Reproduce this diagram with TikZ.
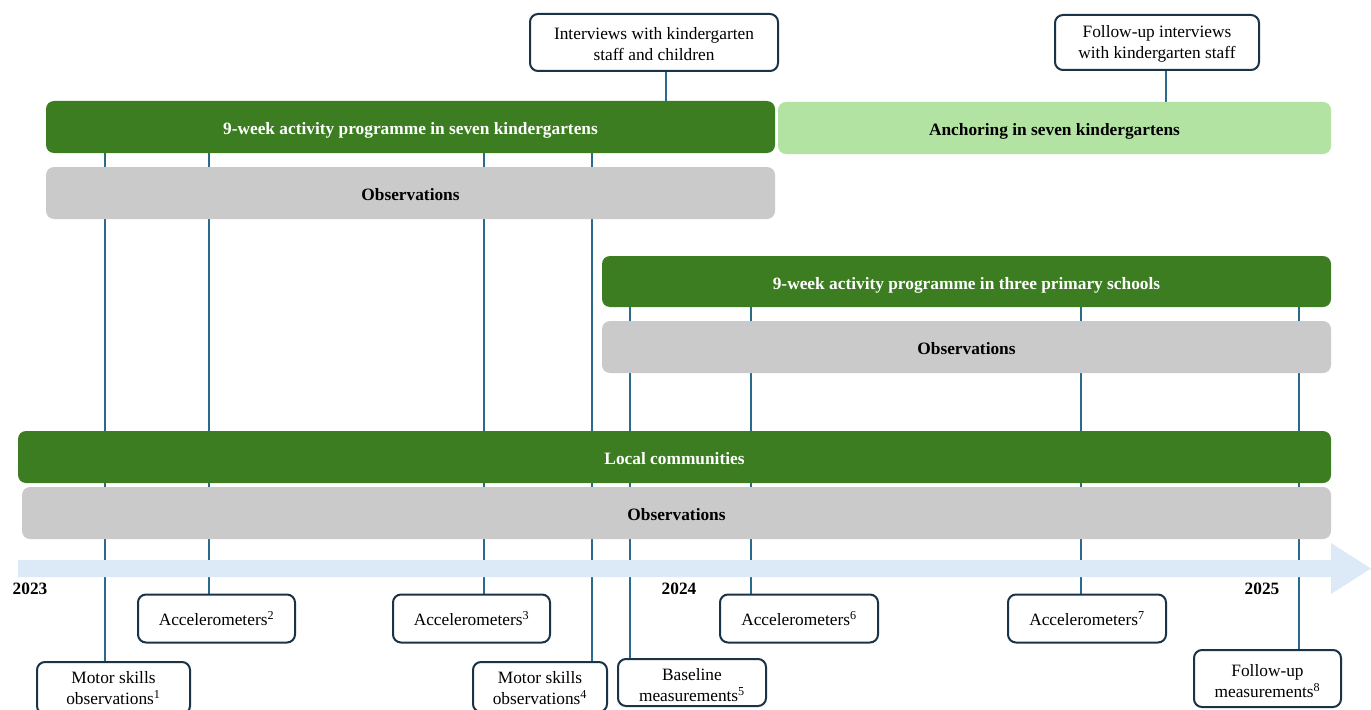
\documentclass[tikz,border=0pt]{standalone}
\usepackage{fontspec}
\setmainfont{Liberation Serif}
\usetikzlibrary{backgrounds}
\definecolor{dkgreen}{HTML}{3C7D22}
\definecolor{ltgreen}{HTML}{B3E3A2}
\definecolor{barGray}{HTML}{CACACA}
\definecolor{arrowBlue}{HTML}{DCE9F6}
\definecolor{lineBlue}{HTML}{2A6A8C}
\definecolor{boxNavy}{HTML}{1B3347}
\tikzset{
  bar/.style={rounded corners=6pt, inner sep=0pt, text height=11.4pt, text depth=0pt, font=\bfseries\fontsize{13}{15}\selectfont},
  greenbar/.style={bar, fill=dkgreen, text=white},
  lightbar/.style={bar, fill=ltgreen, text=black},
  graybar/.style={bar, fill=barGray, text=black},
  evbox/.style={draw=boxNavy, line width=1.5pt, rounded corners=6pt, fill=white, align=center, inner sep=0pt, font=\fontsize{13}{15.75}\selectfont},
  vline/.style={draw=lineBlue, line width=1.6pt},
  yearlbl/.style={font=\bfseries\fontsize{13}{15}\selectfont, inner sep=0pt},
  pw/.style={minimum width=#1*0.75pt},
  ph/.style={minimum height=#1*0.75pt}
}
\begin{document}
\begin{tikzpicture}[x=0.75pt,y=-0.75pt]
\useasboundingbox (0,0) rectangle (1371,710);
% bars
\node[greenbar, pw=729, ph=52] (kg) at (410.5,127) {9-week activity programme in seven kindergartens};
\node[lightbar, pw=553, ph=52] (anch) at (1054.5,128) {Anchoring in seven kindergartens};
\node[graybar, pw=729, ph=52] (obs1) at (410.5,193) {Observations};
\node[greenbar, pw=729, ph=51] (ps) at (966.5,281.5) {9-week activity programme in three primary schools};
\node[graybar, pw=729, ph=52] (obs2) at (966.5,347) {Observations};
\node[greenbar, pw=1313, ph=52] (lc) at (674.5,457) {Local communities};
\node[graybar, pw=1309, ph=52] (obs3) at (676.5,513) {Observations};
% top boxes
\node[evbox, pw=248, ph=57] (int1) at (654,42.5) {\rule{0pt}{11pt}Interviews with kindergarten\\staff and children};
\node[evbox, pw=204, ph=55] (int2) at (1157,42.5) {\rule{0pt}{11pt}Follow-up interviews\\with kindergarten staff};
% bottom boxes
\node[evbox, pw=153, ph=52] (m1) at (113.5,688) {Motor skills\\observations\textsuperscript{1}};
\node[evbox, pw=157, ph=48] (a2) at (216.5,618.5) {Accelerometers\textsuperscript{2}};
\node[evbox, pw=157, ph=48] (a3) at (471.5,618.5) {Accelerometers\textsuperscript{3}};
\node[evbox, pw=134, ph=50] (m4) at (540,687) {\rule{0pt}{11pt}Motor skills\\observations\textsuperscript{4}};
\node[evbox, pw=148, ph=47] (b5) at (692,682.5) {\rule{0pt}{13pt}Baseline\\measurements\textsuperscript{5}};
\node[evbox, pw=158, ph=48] (a6) at (799,618.5) {Accelerometers\textsuperscript{6}};
\node[evbox, pw=158, ph=48] (a7) at (1087,618.5) {Accelerometers\textsuperscript{7}};
\node[evbox, pw=147, ph=57] (f8) at (1267.5,678.5) {\rule{0pt}{13pt}Follow-up\\measurements\textsuperscript{8}};
% years
\node[yearlbl] (y23) at (30,589) {2023};
\node[yearlbl] (y24) at (679,589) {2024};
\node[yearlbl] (y25) at (1262,589) {2025};
\begin{pgfonlayer}{background}
  \draw[vline] (int1.south -| 666,0) -- (kg.north -| 666,0);
  \draw[vline] (int2.south -| 1166,0) -- (anch.north -| 1166,0);
  \draw[vline] (kg.south -| 105,0) -- (m1.north -| 105,0);
  \draw[vline] (kg.south -| 209,0) -- (a2.north -| 209,0);
  \draw[vline] (kg.south -| 484,0) -- (a3.north -| 484,0);
  \draw[vline] (kg.south -| 592,0) -- (m4.north -| 592,0);
  \draw[vline] (ps.south -| 630,0) -- (b5.north -| 630,0);
  \draw[vline] (ps.south -| 751,0) -- (a6.north -| 751,0);
  \draw[vline] (ps.south -| 1081,0) -- (a7.north -| 1081,0);
  \draw[vline] (ps.south -| 1299,0) -- (f8.north -| 1299,0);
  % timeline arrow
  \fill[arrowBlue] (18,560) -- (1331,560) -- (1331,543) -- (1371,568.5) -- (1331,594) -- (1331,577) -- (18,577) -- cycle;
\end{pgfonlayer}
\end{tikzpicture}
\end{document}
